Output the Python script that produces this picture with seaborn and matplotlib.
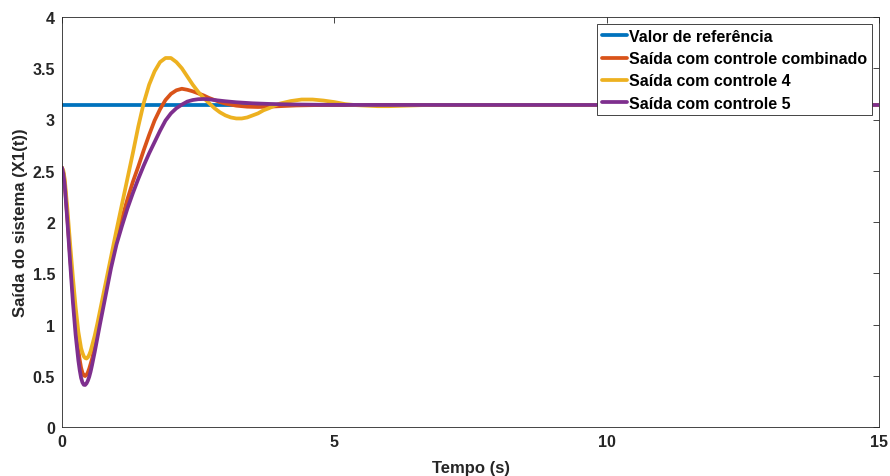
import numpy as np
import pandas as pd
import matplotlib
matplotlib.use("Agg")
import matplotlib.pyplot as plt
import seaborn as sns

# ---- data ----
ref_t = [0.0, 15.0]
ref_y = [3.1416, 3.1416]

comb_t = [0.00, 0.025, 0.05, 0.10, 0.15, 0.20, 0.25, 0.30, 0.325, 0.35, 0.375, 0.40,
          0.425, 0.45, 0.475, 0.50, 0.55,
          0.60, 0.65, 0.70, 0.80, 0.90, 1.00, 1.10, 1.20, 1.30, 1.40, 1.50, 1.60,
          1.70, 1.80, 1.90, 2.00, 2.10, 2.20, 2.30, 2.40, 2.50, 2.60, 2.70, 2.80,
          2.90, 3.00, 3.20, 3.40, 3.60, 3.80, 4.00, 4.30, 4.70, 5.00, 15.0]
comb_y = [2.53, 2.48, 2.38, 2.03, 1.66, 1.30, 0.99, 0.75, 0.655, 0.58, 0.53, 0.503,
          0.497, 0.508, 0.533, 0.57, 0.66,
          0.78, 0.92, 1.06, 1.33, 1.59, 1.83, 2.03, 2.22, 2.39, 2.54, 2.70, 2.85,
          2.99, 3.10, 3.19, 3.25, 3.285, 3.30, 3.29, 3.275, 3.255, 3.235, 3.21, 3.19,
          3.17, 3.155, 3.135, 3.125, 3.122, 3.125, 3.13, 3.137, 3.141, 3.142, 3.1416]

c4_t = [0.00, 0.025, 0.05, 0.10, 0.15, 0.20, 0.25, 0.30, 0.35, 0.375, 0.40, 0.425,
        0.45, 0.475, 0.50, 0.525, 0.55,
        0.60, 0.65, 0.70, 0.80, 0.90, 1.00, 1.10, 1.20, 1.30, 1.40, 1.50, 1.60,
        1.70, 1.80, 1.90, 2.00, 2.10, 2.20, 2.30, 2.40, 2.50, 2.60, 2.70, 2.80,
        2.90, 3.00, 3.10, 3.20, 3.30, 3.40, 3.50, 3.60, 3.70, 3.80, 3.90, 4.00,
        4.20, 4.40, 4.60, 4.80, 5.00, 5.20, 5.40, 5.60, 5.80, 6.00, 6.30, 6.60,
        7.00, 15.0]
c4_y = [2.53, 2.50, 2.42, 2.12, 1.78, 1.46, 1.17, 0.93, 0.77, 0.725, 0.69, 0.673,
        0.668, 0.68, 0.705, 0.74, 0.79,
        0.89, 1.01, 1.14, 1.40, 1.66, 1.92, 2.17, 2.42, 2.67, 2.93, 3.16, 3.34,
        3.47, 3.56, 3.60, 3.60, 3.56, 3.50, 3.42, 3.34, 3.27, 3.21, 3.16, 3.11,
        3.07, 3.04, 3.02, 3.01, 3.01, 3.02, 3.04, 3.06, 3.09, 3.11, 3.135, 3.155,
        3.18, 3.195, 3.195, 3.185, 3.17, 3.15, 3.14, 3.135, 3.13, 3.13, 3.135, 3.14,
        3.142, 3.1416]

c5_t = [0.00, 0.025, 0.05, 0.10, 0.15, 0.20, 0.25, 0.30, 0.325, 0.35, 0.375, 0.40,
        0.425, 0.45, 0.475, 0.50, 0.525, 0.55,
        0.60, 0.65, 0.70, 0.80, 0.90, 1.00, 1.10, 1.20, 1.30, 1.40, 1.50, 1.60,
        1.70, 1.80, 1.90, 2.00, 2.10, 2.20, 2.30, 2.40, 2.50, 2.60, 2.70, 2.80,
        3.00, 3.20, 3.50, 3.80, 4.20, 4.70, 5.50, 15.0]
c5_y = [2.53, 2.47, 2.36, 2.00, 1.60, 1.22, 0.90, 0.65, 0.555, 0.48, 0.435, 0.412,
        0.41, 0.425, 0.452, 0.49, 0.54, 0.60,
        0.73, 0.87, 1.01, 1.28, 1.55, 1.78, 1.96, 2.13, 2.28, 2.42, 2.55, 2.67,
        2.78, 2.89, 2.99, 3.06, 3.11, 3.145, 3.175, 3.19, 3.198, 3.20, 3.197, 3.19,
        3.178, 3.168, 3.158, 3.152, 3.147, 3.144, 3.142, 3.1416]

labels = ["Valor de referência", "Saída com controle combinado",
          "Saída com controle 4", "Saída com controle 5"]
colors = ["#0072BD", "#D95319", "#EDB120", "#7E2F8E"]
x_ticks = [0, 5, 10, 15]
y_ticks = [0, 0.5, 1, 1.5, 2, 2.5, 3, 3.5, 4]
y_tick_labels = ["0", "0.5", "1", "1.5", "2", "2.5", "3", "3.5", "4"]

frames = []
for lab, t, y in zip(labels, [ref_t, comb_t, c4_t, c5_t], [ref_y, comb_y, c4_y, c5_y]):
    frames.append(pd.DataFrame({"t": t, "y": y, "serie": lab}))
df = pd.concat(frames, ignore_index=True)

sns.set_style("white")
plt.rcParams["font.family"] = ["Liberation Sans", "DejaVu Sans"]
plt.rcParams["font.weight"] = "bold"

fig = plt.figure(figsize=(8.9, 4.77), dpi=100)
ax = fig.add_axes([62 / 890, 49 / 477, (879 - 62) / 890, (428 - 18) / 477])

sns.lineplot(data=df, x="t", y="y", hue="serie", hue_order=labels,
             palette=dict(zip(labels, colors)), estimator=None, sort=True,
             lw=2.7, ax=ax)

ax.set_xlim(0, 15)
ax.set_ylim(0, 4)
ax.set_xticks(x_ticks)
ax.set_xticklabels([str(v) for v in x_ticks])
ax.set_yticks(y_ticks)
ax.set_yticklabels(y_tick_labels)
ax.tick_params(direction="in", length=4, width=0.6, color="#262626",
               top=True, right=True, labelsize=11.5, labelcolor="#262626", pad=5)
for lbl in ax.get_xticklabels() + ax.get_yticklabels():
    lbl.set_fontweight("bold")
for sp in ax.spines.values():
    sp.set_visible(True)
    sp.set_color("#262626")
    sp.set_linewidth(0.6)

ax.set_xlabel("Tempo (s)", fontsize=12, fontweight="bold", color="#262626", labelpad=8)
ax.set_ylabel("Saída do sistema (X1(t))", fontsize=12, fontweight="bold", color="#262626", labelpad=3)

leg = ax.legend(loc="upper right", frameon=True, fancybox=False,
                handlelength=1.6, handletextpad=0.1, borderpad=0.3,
                labelspacing=0.45, borderaxespad=0.45, prop={"weight": "bold", "size": 11.5})
leg.get_frame().set_edgecolor("#262626")
leg.get_frame().set_linewidth(0.6)
leg.get_frame().set_alpha(1)
for h in leg.get_lines():
    h.set_linewidth(2.7)
for tx in leg.get_texts():
    tx.set_color("black")

fig.savefig("out.png", dpi=100)
